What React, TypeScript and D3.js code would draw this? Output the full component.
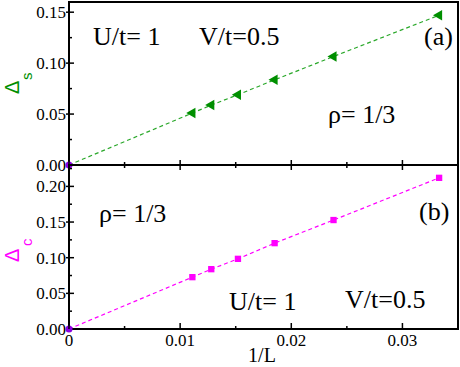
import React from "react";
import * as d3 from "d3";

// 1/L values (L = 90, 78, 66, 54, 42, 30)
const invL = [0.0111, 0.0128, 0.0152, 0.0185, 0.0238, 0.0333];
const spinGap = [0.051, 0.0588, 0.069, 0.0836, 0.1065, 0.147];
const chargeGap = [0.0727, 0.0839, 0.0984, 0.1204, 0.1528, 0.212];
// extrapolated value at 1/L = 0
const extrapX = 0;
const extrapS = 0;
const extrapC = 0;

const xTicks = [0, 0.01, 0.02, 0.03];
const xMinor = [0.005, 0.015, 0.025];
const yTicksA = [0, 0.05, 0.1, 0.15];
const yMinorA = [0.025, 0.075, 0.125];
const yTicksB = [0, 0.05, 0.1, 0.15, 0.2];
const yMinorB = [0.025, 0.075, 0.125, 0.175, 0.225];

const serif = "Liberation Serif";
const sans = "Liberation Sans";
const GREEN = "#008f00";
const GREEN_LINE = "#2aa82a";
const MAGENTA = "#ff00ff";
const PURPLE = "#8a00e0";

const left = 69;
const right = 458;
const topA = 2;
const mid = 165;
const bottomB = 329;

const x = d3.scaleLinear().domain([0, 0.035]).range([left, right]);
const yA = d3.scaleLinear().domain([0, 0.16]).range([mid, topA]);
const yB = d3.scaleLinear().domain([0, 0.23]).range([bottomB, mid]);

const fmt = (v: number) => (v === 0 ? "0.00" : d3.format(".2f")(v));

function Panel({
  y,
  top,
  bottom,
  vals,
  ext,
  color,
  lineColor,
  marker,
  yTicks,
  yMinor,
}: any) {
  const pts = [[extrapX, ext], ...invL.map((v, i) => [v, vals[i]])];
  const line = d3
    .line<number[]>()
    .x((d) => x(d[0]))
    .y((d) => y(d[1]))(pts);
  const tri = d3.symbol().type(d3.symbolTriangle).size(48)();
  const sq = d3.symbol().type(d3.symbolSquare).size(40)();
  return (
    <g>
      <path d={line || ""} fill="none" stroke={lineColor} strokeWidth={1.2} strokeDasharray="4,3" />
      {invL.map((v, i) =>
        marker === "tri" ? (
          <path
            key={i}
            d={tri || ""}
            fill={color}
            transform={`translate(${x(v)},${y(vals[i])}) rotate(-90)`}
          />
        ) : (
          <path key={i} d={sq || ""} fill={color} transform={`translate(${x(v)},${y(vals[i])})`} />
        )
      )}
      {/* y ticks */}
      {yTicks.map((t: number) => (
        <g key={t}>
          <line x1={left - 3} x2={left + 5} y1={y(t)} y2={y(t)} stroke="#000" strokeWidth={1.5} />
          <text
            x={66}
            y={y(t)}
            dy="0.35em"
            textAnchor="end"
            style={{ fontFamily: serif, fontSize: 17 }}
          >
            {fmt(t)}
          </text>
        </g>
      ))}
      {yMinor.map((t: number) => (
        <line key={t} x1={left} x2={left + 3} y1={y(t)} y2={y(t)} stroke="#000" strokeWidth={1.5} />
      ))}
      <rect x={left} y={top} width={right - left} height={bottom - top} fill="none" stroke="#000" strokeWidth={2} />
      <circle cx={x(extrapX)} cy={y(ext)} r={3.5} fill={PURPLE} />
    </g>
  );
}

export default function App() {
  return (
    <svg width={460} height={367} style={{ position: "absolute", left: 0, top: 0 }}>
      <rect width={460} height={367} fill="#fff" />
      <Panel
        y={yA}
        top={topA}
        bottom={mid}
        vals={spinGap}
        ext={extrapS}
        color={GREEN}
        lineColor={GREEN_LINE}
        marker="tri"
        yTicks={yTicksA}
        yMinor={yMinorA}
      />
      <Panel
        y={yB}
        top={mid}
        bottom={bottomB}
        vals={chargeGap}
        ext={extrapC}
        color={MAGENTA}
        lineColor={MAGENTA}
        marker="sq"
        yTicks={yTicksB}
        yMinor={yMinorB}
      />
      {/* x ticks on the shared border and bottom */}
      {xTicks.map((t) => (
        <g key={t}>
          <line x1={x(t)} x2={x(t)} y1={mid - 5} y2={mid + 5} stroke="#000" strokeWidth={1.5} />
          <line x1={x(t)} x2={x(t)} y1={bottomB} y2={bottomB - 6} stroke="#000" strokeWidth={1.5} />
          <text x={x(t)} y={346} textAnchor="middle" style={{ fontFamily: serif, fontSize: 17 }}>
            {t === 0 ? "0" : d3.format(".2f")(t)}
          </text>
        </g>
      ))}
      {xMinor.map((t) => (
        <g key={t}>
          <line x1={x(t)} x2={x(t)} y1={mid - 3} y2={mid + 3} stroke="#000" strokeWidth={1.5} />
          <line x1={x(t)} x2={x(t)} y1={bottomB} y2={bottomB - 3} stroke="#000" strokeWidth={1.5} />
        </g>
      ))}
      <text x={262} y={362} textAnchor="middle" style={{ fontFamily: serif, fontSize: 20 }}>
        1/L
      </text>

      {/* axis titles */}
      <g transform="translate(19,94) rotate(-90)" fill={GREEN} style={{ fontFamily: sans }}>
        <text x={0} y={0} fontSize={20}>Δ</text>
        <text x={14} y={13} fontSize={15}>s</text>
      </g>
      <g transform="translate(19,262) rotate(-90)" fill={MAGENTA} style={{ fontFamily: sans }}>
        <text x={0} y={0} fontSize={20}>Δ</text>
        <text x={16} y={13} fontSize={15}>c</text>
      </g>

      {/* annotations */}
      <g style={{ fontFamily: serif, fontSize: 26 }}>
        <text x={93} y={45}>U/t= 1</text>
        <text x={199} y={45}>V/t=0.5</text>
        <text x={424} y={45}>(a)</text>
        <text x={328} y={123}>ρ= 1/3</text>
        <text x={99} y={222}>ρ= 1/3</text>
        <text x={419} y={220}>(b)</text>
        <text x={229} y={310}>U/t= 1</text>
        <text x={345} y={308}>V/t=0.5</text>
      </g>
    </svg>
  );
}
